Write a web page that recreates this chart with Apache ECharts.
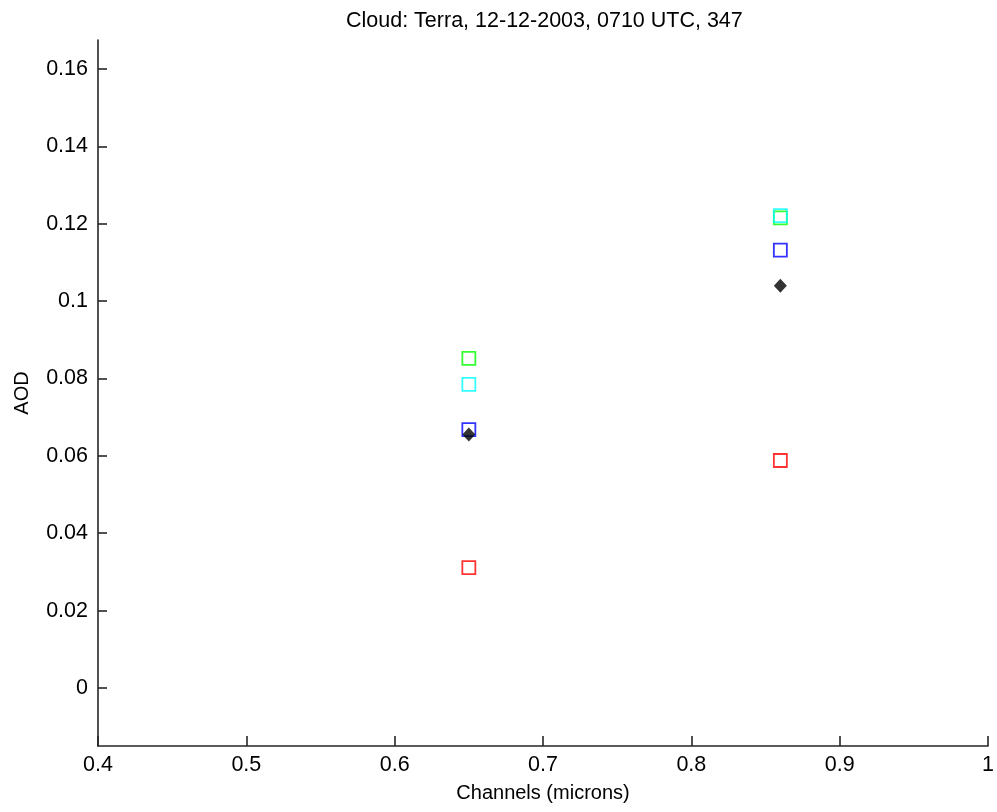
<!DOCTYPE html>
<html><head><meta charset="utf-8">
<script src="https://cdn.jsdelivr.net/npm/echarts@6/dist/echarts.min.js"></script>
<style>html,body{margin:0;padding:0;background:#fff}#c{width:997px;height:812px}</style>
</head><body><div id="c"></div>
<script>
var titleText = 'Cloud: Terra, 12-12-2003, 0710 UTC, 347';
var channels = [0.65, 0.86];
var redVals = [0.0311, 0.0588];
var greenVals = [0.0852, 0.1215];
var cyanVals = [0.0785, 0.1221];
var blueVals = [0.0668, 0.1132];
var blackVals = [0.0655, 0.1040];
var yTicks = [0, 0.02, 0.04, 0.06, 0.08, 0.1, 0.12, 0.14, 0.16];
var xTicks = [0.4, 0.5, 0.6, 0.7, 0.8, 0.9, 1];

var FONT = 'Liberation Sans, Arial, Helvetica, sans-serif';
var AX = '#262626';
function pts(vals){ return channels.map(function(c,i){ return [c, vals[i]]; }); }
function sq(name, vals, col){
  return {name:name, type:'scatter', symbol:'rect', symbolSize:13, data:pts(vals),
    itemStyle:{color:'rgba(0,0,0,0)', borderColor:col, borderWidth:1.8}, z:2};
}
function fmt(v){ return String(+(+v).toFixed(3)); }
var chart = echarts.init(document.getElementById('c'), null, {renderer:'canvas'});
chart.setOption({
  animation:false,
  backgroundColor:'#fff',
  title:{text:titleText, left:341, top:5, textStyle:{fontFamily:FONT, fontSize:21.5, fontWeight:'normal', color:'#000'}},
  grid:{left:98, right:5, top:40, bottom:66, containLabel:false},
  xAxis:{type:'value', min:0.4, max:1,
    name:'Channels (microns)', nameLocation:'middle', nameGap:37,
    nameTextStyle:{fontFamily:FONT, fontSize:20, color:'#000'},
    axisLine:{show:true, onZero:false, lineStyle:{color:AX, width:1.6}},
    axisTick:{show:true, inside:true, length:10, customValues:xTicks, lineStyle:{color:AX, width:1.6}},
    axisLabel:{fontFamily:FONT, fontSize:21.5, color:'#000', margin:8, customValues:xTicks, formatter:fmt},
    splitLine:{show:false}},
  yAxis:{type:'value', min:-0.015, max:0.1675,
    name:'AOD', nameLocation:'middle', nameGap:66, nameRotate:90,
    nameTextStyle:{fontFamily:FONT, fontSize:20, color:'#000'},
    axisLine:{show:true, onZero:false, lineStyle:{color:AX, width:1.6}},
    axisTick:{show:true, inside:true, length:9, customValues:yTicks, lineStyle:{color:AX, width:1.6}},
    axisLabel:{fontFamily:FONT, fontSize:21.5, color:'#000', margin:10, customValues:yTicks, formatter:fmt},
    splitLine:{show:false}},
  series:[
    sq('red', redVals, '#ff0000'),
    sq('green', greenVals, '#00ff00'),
    sq('cyan', cyanVals, '#00ffff'),
    sq('blue', blueVals, '#0000ff'),
    {name:'black', type:'scatter', symbol:'diamond', symbolSize:[13,14], data:pts(blackVals),
     itemStyle:{color:'#000'}, z:3}
  ]
});
</script></body></html>
